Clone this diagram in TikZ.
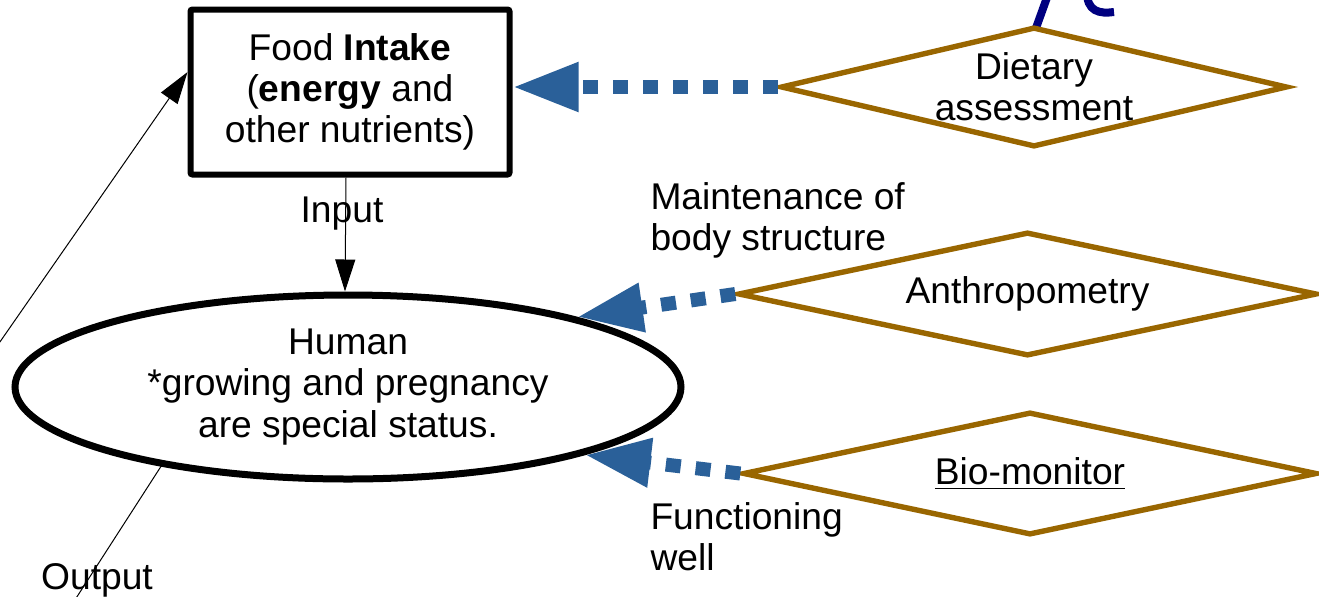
\documentclass[tikz,border=0pt]{standalone}
\usepackage{fontspec}
\setmainfont{Liberation Sans}
\usetikzlibrary{arrows.meta, shapes.geometric, positioning}
\definecolor{dotblue}{RGB}{42,96,153}
\definecolor{rimbrown}{RGB}{153,102,0}
\definecolor{inkblue}{RGB}{0,0,128}
\tikzset{>={Triangle[length=16pt,width=10pt]}}
\tikzset{
	every node/.style={font=\fontsize{18.6}{20.6}\selectfont, align=center},
	intake/.style={draw, line width=3pt, rounded corners=1pt, minimum width=159.5pt, minimum height=82.5pt, inner sep=0pt},
	body/.style={draw, ellipse, line width=3.5pt, minimum width=333pt, minimum height=92pt, inner sep=0pt},
	check/.style={draw=rimbrown, diamond, line width=2.7pt, inner sep=0pt, aspect=4.5},
	probe/.style={draw=dotblue, line width=7pt, dash pattern=on 7.5pt off 7.5pt, -{Triangle[length=33pt,width=23pt]}},
}

\begin{document}
\begin{tikzpicture}[x=0.5pt, y=-0.5pt, line width=0.5pt]
	\useasboundingbox (0,0) rectangle (1319,596);
	\clip (0,0) rectangle (1319,596);

	% cut-off blue marks at the top edge
	\draw[inkblue, line width=4pt] (1049,-8) -- (1036,28);
	\draw[inkblue, line width=4pt] (1087,-10) .. controls (1086,12) and (1100,14) .. (1114,12);

	\node[intake]	(Food)	at	(350,92)	{Food \textbf{Intake}\\(\textbf{energy} and\\other nutrients)};
	\node[body]	(Human)	at	(348,387)	{Human\\*growing and pregnancy\\are special status.};

	\node[check, minimum width=249pt, minimum height=60pt]	(Diet)	at	(1034,87)	{Dietary\\assessment};
	\node[check, minimum width=289.5pt, minimum height=62pt]	(Anthro)	at	(1027.5,294)	{Anthropometry};
	\node[check, minimum width=287pt, minimum height=61.5pt]	(Bio)	at	(1030,473.5)	{\underline{Bio-monitor}};

	\node	(Input)	at	(342,214)	{Input};
	\node	(Output)	at	(97,580)	{Output};
	\node[anchor=west, align=left, inner sep=0pt]	(Keep)	at	(650,220)	{Maintenance of\\body structure};
	\node[anchor=west, align=left, inner sep=0pt]	(Work)	at	(650,537)	{Functioning\\well};

	\coordinate	(Feed)	at	(-30,385);
	\coordinate	(Drain)	at	(62,620);

	\draw[->] ([xshift=-2pt]Food.south) -- ([xshift=-1.5pt]Human.north);
	\draw[->] (Feed) -- (Food.173);
	\draw (Human.203) -- (Drain);

	\draw[probe] (Diet.west) -- (Food.east |- Diet.west);
	\draw[probe] (Anthro.west) -- (Human.17);
	\draw[probe] (Bio.west) -- (Human.-16);
\end{tikzpicture}
\end{document}
